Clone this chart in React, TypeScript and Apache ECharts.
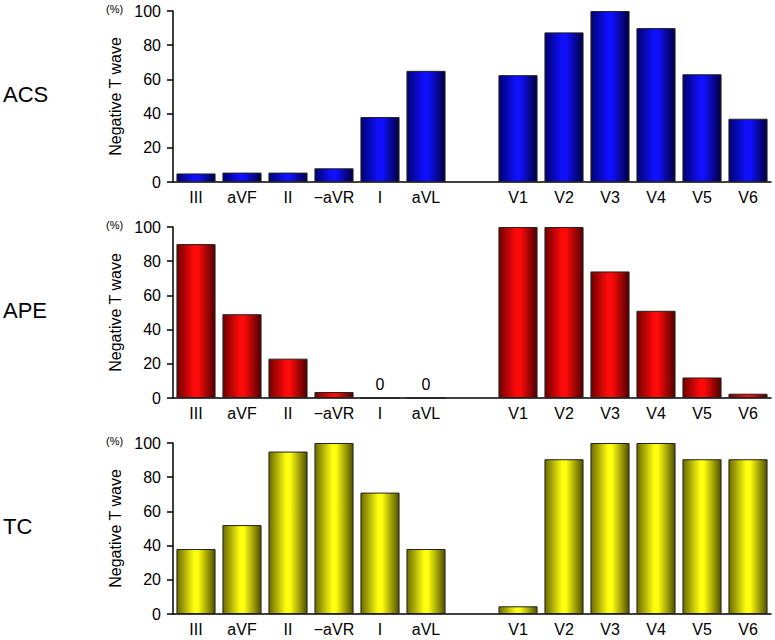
import React, { useEffect, useRef } from "react";
import * as echarts from "echarts";

const categories = ["III", "aVF", "II", "\u2212aVR", "I", "aVL", "", "V1", "V2", "V3", "V4", "V5", "V6"];
const panelNames = ["ACS", "APE", "TC"];
const acsValues: (number | string)[] = [5, 5.5, 5.5, 8, 38, 65, "-", 62.5, 87.5, 100, 90, 63, 37];
const apeValues: (number | string)[] = [90, 49, 23, 3.5, 0, 0, "-", 100, 100, 74, 51, 12, 2.5];
const tcValues: (number | string)[] = [38, 52, 95, 100, 71, 38, "-", 4.5, 90.5, 100, 100, 90.5, 90.5];
const yTicks = { min: 0, max: 100, interval: 20 };
const yName = "Negative T wave";
const unitLabel = "(%)";

const FONT = "Arial, 'Liberation Sans', sans-serif";

function grad(dark1: string, bright: string, dark2: string) {
  return {
    type: "linear",
    x: 0, y: 0, x2: 1, y2: 0,
    colorStops: [
      { offset: 0, color: dark1 },
      { offset: 0.45, color: bright },
      { offset: 0.55, color: bright },
      { offset: 1, color: dark2 },
    ],
  };
}

export default function App() {
  const ref = useRef<HTMLDivElement>(null);
  useEffect(() => {
    if (!ref.current) return;
    const chart = echarts.init(ref.current, null, { renderer: "svg" });
    const tops = [11, 227, 443];
    const h = 171;
    const datasets = [acsValues, apeValues, tcValues];
    const colors = [
      grad("#000070", "#1010ff", "#000040"),
      grad("#700000", "#ff0a0a", "#500000"),
      grad("#6a6a00", "#ffff10", "#505000"),
    ];
    const grids = tops.map((t) => ({ left: 173, width: 598, top: t, height: h }));
    const xAxes = tops.map((_, i) => ({
      type: "category",
      gridIndex: i,
      data: categories,
      axisLine: { show: true, lineStyle: { color: "#000", width: 1.5 } },
      axisTick: { show: false },
      axisLabel: { interval: 0, color: "#000", fontSize: 16, fontFamily: FONT, margin: 7 },
    }));
    const yAxes = tops.map((_, i) => ({
      type: "value",
      gridIndex: i,
      min: yTicks.min,
      max: yTicks.max,
      interval: yTicks.interval,
      name: yName,
      nameLocation: "middle",
      nameGap: 48,
      nameTextStyle: { color: "#000", fontSize: 16, fontFamily: FONT },
      axisLine: { show: true, lineStyle: { color: "#000", width: 1.5 } },
      axisTick: { show: true, inside: false, length: 6, lineStyle: { color: "#000", width: 1.5 } },
      axisLabel: { color: "#000", fontSize: 16, fontFamily: FONT, margin: 12 },
      splitLine: { show: false },
    }));
    const series = datasets.map((d, i) => ({
      type: "bar",
      xAxisIndex: i,
      yAxisIndex: i,
      data: d,
      barCategoryGap: "15%",
      itemStyle: { color: colors[i], borderColor: "#222", borderWidth: 1 },
      label: {
        show: true,
        position: "top",
        distance: 5,
        color: "#000",
        fontSize: 16,
        fontFamily: FONT,
        formatter: (p: any) => (p.value === 0 ? "0" : ""),
      },
    }));
    const graphics: any[] = [];
    tops.forEach((t, i) => {
      graphics.push({
        type: "text",
        left: 3,
        top: t + h / 2 - 13,
        style: { text: panelNames[i], fontSize: 22, fontFamily: FONT, fill: "#000" },
      });
      graphics.push({
        type: "text",
        left: 106,
        top: t - 8,
        style: { text: unitLabel, fontSize: 11, fontFamily: FONT, fill: "#000" },
      });
    });
    chart.setOption({
      animation: false,
      backgroundColor: "#fff",
      grid: grids,
      xAxis: xAxes,
      yAxis: yAxes,
      series,
      graphic: graphics,
    } as any);
    return () => chart.dispose();
  }, []);
  return (
    <div
      ref={ref}
      style={{ position: "absolute", left: 0, top: 0, width: 775, height: 640 }}
    />
  );
}
